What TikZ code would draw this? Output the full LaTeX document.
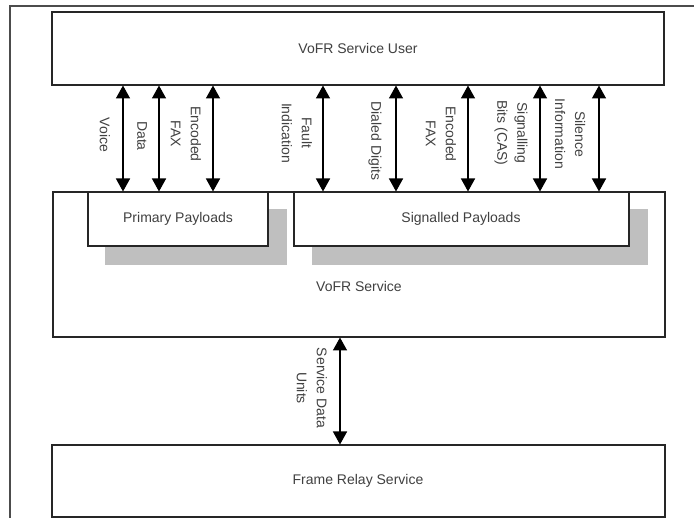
\documentclass[tikz,border=0pt]{standalone}
\usepackage{fontspec}
\setmainfont{Liberation Sans}
\usetikzlibrary{arrows.meta}
\begin{document}
\begin{tikzpicture}[x=1pt,y=-1pt,
  box/.style={draw=black!85, line width=1.6pt, fill=white, anchor=north west, inner sep=0pt, outer sep=0pt},
  shadowfill/.style={fill=black!25},
  txt/.style={text=black!75, font=\fontsize{14}{20}\selectfont, inner sep=0pt},
  rlabel/.style={txt, rotate=-90, align=center},
  dbl/.style={line width=1.5pt, black, {Triangle[length=13pt,width=14pt]}-{Triangle[length=13pt,width=14pt]}, shorten <=0.5pt, shorten >=0.5pt},
  frame/.style={draw=black!70, line width=1.6pt}]
\useasboundingbox (0,0) rectangle (694,518);
% outer frame (clipped)
\draw[frame] (10,520) -- (10,6) -- (696,6);
% boxes
\node[box, minimum width=612pt, minimum height=73pt] (user) at (52,12) {};
\node[txt] (userlabel) at (358,48.5) {VoFR Service User};
\node[box, minimum width=612pt, minimum height=145pt] (vofr) at (53,192) {};
\node[txt] (vofrlabel) at (359,286) {VoFR Service};
\fill[shadowfill] (105,209) rectangle (287,265);
\fill[shadowfill] (312,209) rectangle (648,265);
\node[box, minimum width=180pt, minimum height=54pt] (pp) at (88,192) {};
\node[txt] (pplabel) at (178,219) {Primary Payloads};
\node[box, minimum width=335pt, minimum height=54pt] (sp) at (294,192) {};
\node[txt] (splabel) at (461,219) {Signalled Payloads};
\node[box, minimum width=613pt, minimum height=72pt] (frs) at (52,445) {};
\node[txt] (frslabel) at (358,481) {Frame Relay Service};
% arrows
\foreach \xx in {123,159,213,323,396,468,540,599}
  \draw[dbl] (user.south -| \xx,0) -- (vofr.north -| \xx,0);
\draw[dbl] (vofr.south -| 340,0) -- (frs.north -| 340,0);
% labels
\node[rlabel] (l1) at (105,135) {Voice};
\node[rlabel] (l2) at (142,136) {Data};
\node[rlabel] (l3) at (186,134) {Encoded\\FAX};
\node[rlabel] (l4) at (297,133) {Fault\\Indication};
\node[rlabel] (l5) at (375,141) {Dialed Digits};
\node[rlabel] (l6) at (441,134) {Encoded\\FAX};
\node[rlabel] (l7) at (511,133) {Signalling\\Bits (CAS)};
\node[rlabel] (l8) at (570,134) {Silence\\Information};
\node[rlabel] (l9) at (312,388) {Service Data\\Units};
\end{tikzpicture}
\end{document}
